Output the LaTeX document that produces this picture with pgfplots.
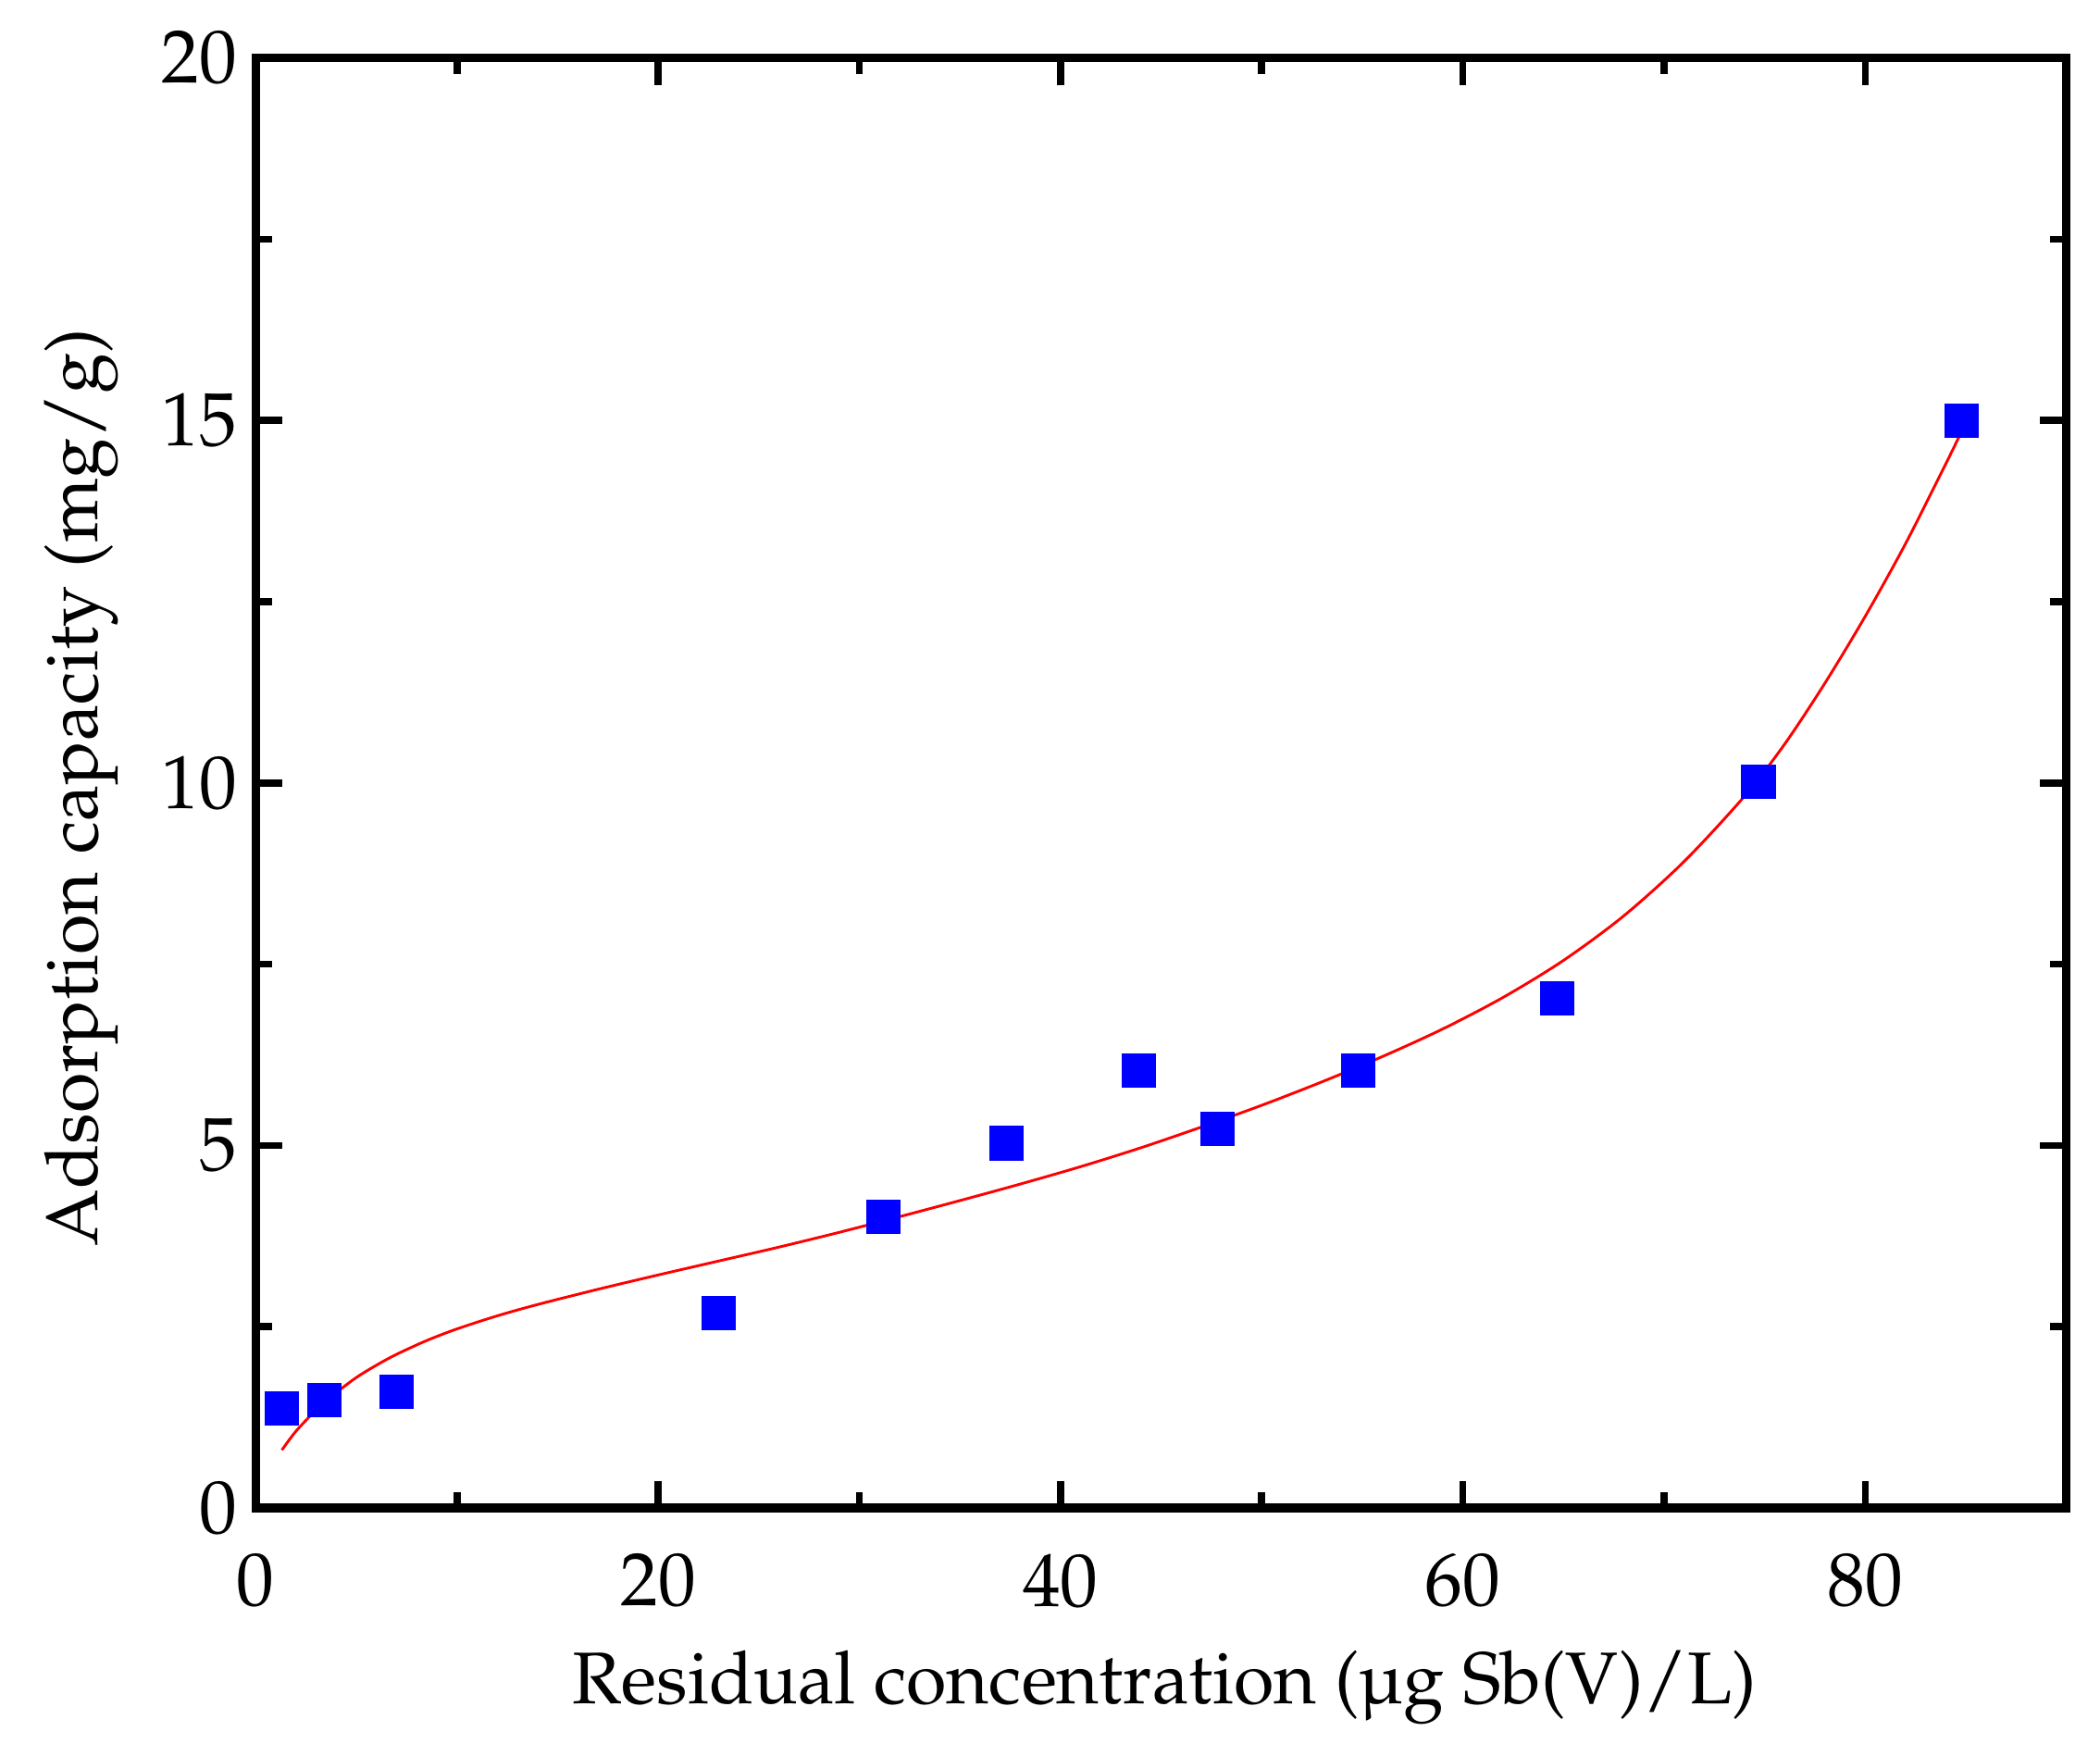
\documentclass[border=0pt]{standalone}
\usepackage[T1]{fontenc}
\usepackage{mathpazo}
\usepackage{pgfplots}
\pgfplotsset{compat=1.18}
\begin{document}
\begin{tikzpicture}
\begin{axis}[
  name=ax,
  scale only axis,
  width=336.25pt, height=269.25pt,
  xmin=0, xmax=90, ymin=0, ymax=20,
  xtick={0,20,40,60,80},
  ytick={0,5,10,15,20},
  minor x tick num=1,
  minor y tick num=1,
  tick align=inside,
  major tick length=5pt,
  minor tick length=3pt,
  axis line style={line width=1.6pt},
  every tick/.style={black, line width=1.3pt},
  tick label style={font=\fontsize{14}{16}\selectfont},
  xticklabel style={yshift=-5pt},
  label style={font=\fontsize{13.6}{16}\selectfont},
  xlabel={Residual concentration (\textmu g Sb(V)/L)},
  ylabel={Adsorption capacity (mg/g)},
  xlabel style={at={(axis description cs:0.502,0)}, anchor=north, yshift=-23pt},
  ylabel style={at={(axis description cs:0,0.497)}, anchor=south, yshift=22pt},
  clip=false,
]
\addplot[red, line width=0.5pt, smooth] coordinates {
(1.3,0.80) (2,1.06) (3,1.35) (4,1.59) (5,1.80) (6,1.97) (7,2.12)
(8.5,2.31) (10,2.47) (12,2.65) (14,2.806) (17,3.016) (20,3.214) (23,3.406)
(26,3.598) (29,3.802) (32,4.018) (35,4.24) (38,4.468) (41,4.708)
(44,4.969) (47,5.254) (50,5.554) (53,5.878) (56,6.226) (59,6.607)
(62,7.042) (65,7.552) (68,8.167) (71,8.917) (74,9.817) (76,10.537)
(78,11.377) (80,12.297) (82,13.297) (84,14.397) (84.9,14.91)
};
\addplot[only marks, mark=square*, mark size=3pt, mark options={fill=blue, draw=blue}] coordinates {
(1.3,1.37) (3.4,1.49) (7.0,1.60) (23.0,2.69) (31.2,4.02) (37.3,5.03)
(43.9,6.03) (47.8,5.23) (54.8,6.03) (64.7,7.03) (74.7,10.02) (84.8,15.0)
};
\end{axis}
\pgfresetboundingbox
\path ([shift={(-47.5pt,-43.75pt)}]ax.south west) rectangle ([shift={(6.25pt,10.75pt)}]ax.north east);
\end{tikzpicture}
\end{document}
